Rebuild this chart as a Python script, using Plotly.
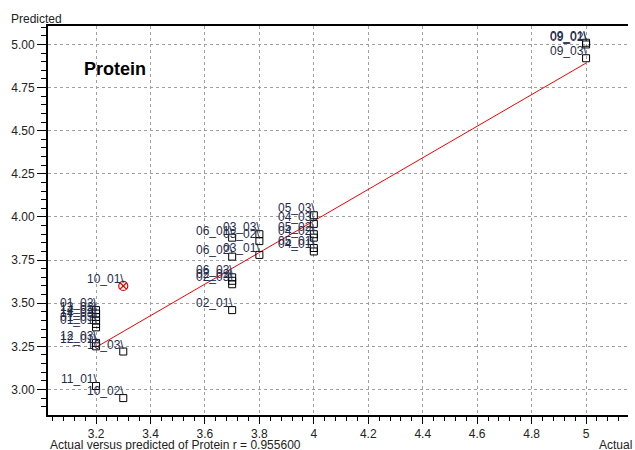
import numpy as np
import plotly.graph_objects as go

# Sample ids, reference (actual) protein and model-predicted protein
sample_ids = [
    "01_02", "13_02", "14_02", "14_03", "01_03", "01_01", "12_03", "12_01", "11_01",
    "10_03", "10_02",
    "06_01", "06_02", "06_03", "02_02", "02_03", "02_01",
    "03_03", "03_02", "03_01",
    "05_03", "04_03", "05_02", "04_02", "05_01", "04_01",
    "09_01", "09_02", "09_03",
]
actual = [
    3.2, 3.2, 3.2, 3.2, 3.2, 3.2, 3.2, 3.2, 3.2,
    3.3, 3.3,
    3.7, 3.7, 3.7, 3.7, 3.7, 3.7,
    3.8, 3.8, 3.8,
    4.0, 4.0, 4.0, 4.0, 4.0, 4.0,
    5.0, 5.0, 5.0,
]
predicted = [
    3.46, 3.44, 3.42, 3.40, 3.38, 3.36, 3.27, 3.25, 3.02,
    3.22, 2.95,
    3.88, 3.77, 3.65, 3.63, 3.61, 3.46,
    3.90, 3.86, 3.78,
    4.01, 3.96, 3.90, 3.88, 3.82, 3.80,
    5.01, 5.00, 4.92,
]

# Sample left out of the calibration
excluded_ids = ["10_01"]
excluded_actual = [3.3]
excluded_predicted = [3.60]

r_value = 0.955600

FONT = "Liberation Sans, Arial, sans-serif"
LABEL_COLOR = "#1f2d4d"
TEXT_COLOR = "#222222"

x = np.array(actual)
y = np.array(predicted)
slope, offset = np.polyfit(x, y, 1)
line_x = np.array([x.min(), x.max()])
line_y = slope * line_x + offset

fig = go.Figure()

fig.add_trace(go.Scatter(
    x=line_x, y=line_y, mode="lines",
    line=dict(color="#ff0000", width=1),
    hoverinfo="skip", showlegend=False,
))

fig.add_trace(go.Scatter(
    x=actual, y=predicted, mode="markers",
    marker=dict(symbol="square-open", size=7, color="#000000", line=dict(width=1)),
    text=sample_ids, showlegend=False,
))

fig.add_trace(go.Scatter(
    x=excluded_actual, y=excluded_predicted, mode="markers",
    marker=dict(symbol="circle-x-open", size=9, color="#e00000", line=dict(width=1.2)),
    text=excluded_ids, showlegend=False,
))

# sample labels sit just above-left of each point, with a leader stroke
for sid, ax_, ay_ in list(zip(sample_ids, actual, predicted)) + \
        list(zip(excluded_ids, excluded_actual, excluded_predicted)):
    fig.add_annotation(
        x=ax_, y=ay_, xref="x", yref="y", text=sid + "\\",
        xanchor="right", yanchor="bottom", xshift=2, yshift=-1,
        showarrow=False, borderpad=0,
        font=dict(family=FONT, size=12, color=LABEL_COLOR),
    )

grid = dict(showgrid=True, gridcolor="#a0a0a0", gridwidth=1, griddash="3px,3px")

fig.update_xaxes(
    range=[3.0235, 5.154], dtick=0.2, tick0=3.0,
    ticks="outside", ticklen=7, tickcolor="#000", tickwidth=1,
    minor=dict(dtick=0.04, tick0=3.0, ticks="outside", ticklen=4, tickcolor="#000", showgrid=False),
    showline=True, linecolor="#000", linewidth=2, mirror=True,
    zeroline=False, automargin=False,
    tickfont=dict(family=FONT, size=12, color=TEXT_COLOR),
    **grid,
)
fig.update_yaxes(
    range=[2.852, 5.107], dtick=0.25, tick0=3.0, tickformat=".2f",
    ticks="outside", ticklen=9, tickcolor="#000", tickwidth=1,
    minor=dict(dtick=0.05, tick0=3.0, ticks="outside", ticklen=5, tickcolor="#000", showgrid=False),
    showline=True, linecolor="#000", linewidth=2,
    zeroline=False, automargin=False,
    tickfont=dict(family=FONT, size=12, color=TEXT_COLOR),
    **grid,
)

fig.add_annotation(
    text="<b>Protein</b>", xref="paper", yref="paper", x=0.058, y=0.89,
    xanchor="left", yanchor="middle", showarrow=False,
    font=dict(family=FONT, size=18, color="#000"),
)
fig.add_annotation(
    text="Predicted", xref="paper", yref="paper", x=-0.067, y=1.0,
    xanchor="left", yanchor="bottom", yshift=-2, showarrow=False,
    font=dict(family=FONT, size=12, color=TEXT_COLOR),
)
fig.add_annotation(
    text=f"Actual versus predicted of Protein r = {r_value:.6f}",
    xref="paper", yref="paper", x=0.0, y=0.0, yshift=-30,
    xanchor="left", yanchor="middle", showarrow=False,
    font=dict(family=FONT, size=12, color=TEXT_COLOR),
)
fig.add_annotation(
    text="Actual", xref="paper", yref="paper", x=1.0, y=0.0, yshift=-30, xshift=6,
    xanchor="right", yanchor="middle", showarrow=False,
    font=dict(family=FONT, size=12, color=TEXT_COLOR),
)

fig.update_layout(
    width=635, height=450,
    margin=dict(l=48, r=7, t=26, b=35),
    paper_bgcolor="#ffffff", plot_bgcolor="#ffffff",
    font=dict(family=FONT),
)

fig.write_html("out.html")
